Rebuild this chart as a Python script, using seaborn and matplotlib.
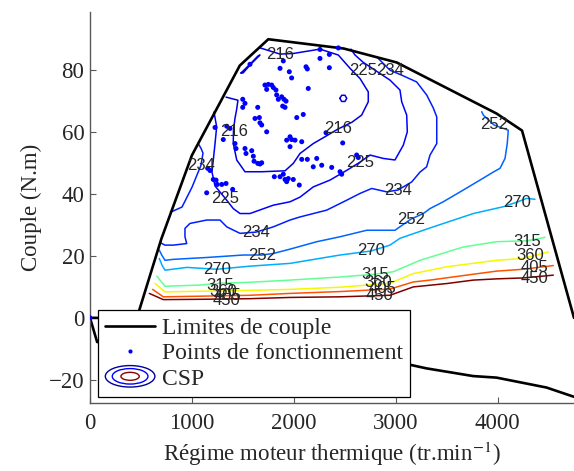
import matplotlib
matplotlib.use("Agg")
import matplotlib.pyplot as plt
from matplotlib.lines import Line2D
from matplotlib.patches import Ellipse
from matplotlib.legend_handler import HandlerBase
from matplotlib.colors import Normalize
import seaborn as sns

# ---- torque limits (rpm, N.m) ----
lim_up_rpm = [0, 460, 700, 1000, 1470, 1750, 2490, 3010, 3990, 4240, 4750]
lim_up_tq = [0, 0, 25.5, 52.5, 81.5, 90, 87, 82.5, 66, 60.5, 0]
lim_low_rpm = [0, 70, 600, 1500, 2400, 3120, 3300, 3760, 3990, 4480, 4750]
lim_low_tq = [0, -7.8, -8.5, -10.5, -13, -15, -16.3, -18.8, -19.3, -22.5, -25.5]

# ---- operating points ----
pts_rpm = [0,
           1865, 1897, 1956, 1979, 2257, 2437, 2349, 2257, 2120, 2133, 2349, 2142, 2093, 1570,
           1717, 1750, 1783, 1734, 1799, 1825, 1832, 1848, 1881, 1904, 1924, 1891, 1914,
           1499, 1521, 1499, 1646, 1619, 1662, 1668, 1685, 1734,
           1227, 1342, 1374, 1308, 1423, 1433, 1521, 1531, 1587, 1603, 1610, 1646, 1668, 1685,
           1809, 1865, 1897, 1914, 1946, 1995, 2054, 1930,
           1155, 1178, 1210, 1237, 1249, 1293, 1335, 1400, 1145,
           2029, 1930, 1963, 1979, 2012, 1963, 2078, 2480, 2316,
           2078, 2133, 2225, 2191, 2274, 2372, 2617, 2633, 2454, 2470]
pts_tq = [0,
          80.6, 83.0, 79.5, 77.5, 86.7, 87.2, 85.1, 83.8, 81.1, 80.4, 80.8, 74.1, 65.7, 81.9,
          75.2, 75.4, 75.2, 73.8, 74.4, 73.6, 72.0, 70.6, 71.4, 70.6, 70.0, 68.4, 68.0,
          70.6, 69.3, 68.0, 68.0, 64.4, 64.7, 63.0, 62.3, 60.1,
          61.5, 61.9, 61.2, 57.6, 56.3, 54.7, 54.7, 53.1, 54.0, 52.2, 50.6, 49.9, 49.7, 50.1,
          45.6, 45.6, 46.4, 44.7, 45.0, 44.7, 42.9, 44.0,
          48.3, 47.6, 44.7, 44.5, 43.1, 43.1, 43.4, 41.5, 40.4,
          64.7, 57.4, 58.5, 57.6, 57.4, 55.3, 56.9, 56.5, 59.8,
          51.2, 51.2, 51.5, 48.8, 49.3, 48.6, 52.6, 51.8, 47.2, 46.4]

# ---- CSP iso-lines (g/kWh) ----
csp216_rpm = [1335, 1452, 1438, 1423, 1408, 1406, 1440, 1521, 1685, 1914, 1995, 2061, 2191,
              2306, 2434, 2571, 2666, 2731, 2731, 2650, 2552, 2437, 2257, 1995, 1865, 1660]
csp216_tq = [71.3, 70.3, 67.1, 64.5, 60.6, 56.3, 51.0, 47.2, 47.2, 47.5, 49.9, 53.1, 56.3,
             58.5, 61.0, 63.2, 65.5, 69.8, 73.0, 77.3, 80.6, 84.9, 86.8, 85.4, 85.2, 87.3]
csp216b_rpm = [1482, 1560, 1649, 1668, 1580, 1502, 1482]
csp216b_tq = [79.1, 81.6, 84.6, 84.9, 82.0, 79.1, 79.1]
csp216c_rpm = [2452, 2470, 2502, 2520, 2502, 2470, 2452]
csp216c_tq = [70.9, 71.9, 71.9, 70.9, 69.9, 69.9, 70.9]
csp225_rpm = [1217, 1243, 1227, 1210, 1197, 1227, 1325, 1406, 1472, 1570, 1799, 1963, 2061,
              2191, 2355, 2522, 2650, 2748, 2878, 2993, 3075, 3114, 3108, 3059, 3042, 2944,
              2797, 2679, 2601, 2561]
csp225_tq = [66.5, 61.7, 56.3, 51.0, 47.1, 42.6, 38.7, 35.3, 33.7, 33.7, 36.4, 37.5, 39.0,
             42.3, 44.5, 47.7, 50.3, 52.6, 51.5, 51.0, 55.8, 60.1, 65.5, 69.8, 73.6, 76.8,
             80.0, 82.6, 84.9, 86.8]
csp234_rpm = [2826, 2944, 3059, 3206, 3304, 3369, 3403, 3403, 3403, 3337, 3304, 3239, 3157,
              3023, 2912, 2765, 2650, 2519, 2323, 2061, 1963, 1799, 1629, 1472, 1342, 1276,
              1145, 981, 932, 932, 949, 818, 736, 695]
csp234_tq = [83.9, 80.0, 78.4, 76.2, 72.0, 67.8, 64.9, 60.1, 56.3, 52.6, 48.8, 47.1, 43.9,
             41.3, 40.7, 41.8, 40.2, 38.0, 34.8, 32.6, 31.6, 29.4, 27.7, 27.3, 29.4, 31.6,
             31.6, 30.5, 28.9, 26.2, 24.0, 23.5, 23.5, 24.2]
csp234b_rpm = [1060, 1089, 1109, 1089, 1001, 952, 903, 815, 790]
csp234b_tq = [56.4, 54.8, 53.2, 49.3, 42.2, 39.0, 35.8, 34.5, 34.2]
csp252_rpm = [3844, 3860, 3965, 4105, 4095, 4073, 4024, 3958, 3827, 3664, 3467, 3337, 3271,
              3150, 2993, 2716, 2454, 2225, 1963, 1799, 1688, 1504, 1145, 818, 736, 704, 680]
csp252_tq = [66.6, 65.5, 62.3, 60.6, 56.3, 51.5, 48.3, 47.1, 44.5, 41.3, 37.5, 35.3, 33.7,
             31.9, 28.3, 28.3, 26.2, 24.6, 22.2, 20.8, 20.3, 20.3, 19.5, 18.9, 18.6, 20.3, 21.9]
csp270_rpm = [680, 707, 736, 949, 1246, 1570, 1963, 2454, 2758, 2944, 3042, 3369, 3762, 4056,
              4191, 4286, 4367]
csp270_tq = [19.2, 17.0, 15.4, 16.3, 15.7, 16.7, 17.6, 20.3, 21.6, 23.5, 25.7, 29.4, 33.7,
             35.9, 37.4, 38.6, 38.3]
csp315_rpm = [655, 736, 1080, 1276, 1570, 1963, 2454, 2797, 2977, 3239, 3664, 3991, 4289, 4465]
csp315_tq = [13.5, 10.2, 10.6, 11.2, 11.5, 12.2, 13.2, 14.1, 14.9, 18.6, 22.9, 24.6, 24.9, 26.0]
csp360_rpm = [638, 736, 1080, 1570, 1963, 2454, 2944, 3173, 3501, 3991, 4252, 4498]
csp360_tq = [11.1, 8.4, 8.6, 8.9, 9.2, 9.9, 11.2, 14.3, 16.5, 18.6, 19.2, 21.3]
csp405_rpm = [615, 719, 1080, 1570, 1963, 2454, 2944, 3173, 3337, 3762, 3991, 4252, 4547]
csp405_tq = [9.2, 6.8, 7.0, 7.3, 7.9, 8.5, 9.3, 11.6, 12.2, 14.1, 15.1, 15.7, 16.9]
csp450_rpm = [582, 719, 1080, 1570, 1963, 2454, 2944, 3173, 3504, 3762, 3991, 4252, 4547]
csp450_tq = [7.9, 5.9, 6.0, 6.2, 6.6, 6.8, 7.3, 10.0, 11.1, 12.2, 12.6, 12.9, 13.8]

iso_lines = [
    (216, csp216_rpm, csp216_tq), (216, csp216b_rpm, csp216b_tq), (216, csp216c_rpm, csp216c_tq),
    (225, csp225_rpm, csp225_tq), (234, csp234_rpm, csp234_tq), (234, csp234b_rpm, csp234b_tq),
    (252, csp252_rpm, csp252_tq), (270, csp270_rpm, csp270_tq), (315, csp315_rpm, csp315_tq),
    (360, csp360_rpm, csp360_tq), (405, csp405_rpm, csp405_tq), (450, csp450_rpm, csp450_tq),
]

# labels of the iso-lines: (value, rpm, torque)
iso_labels = [
    (216, 1865, 85.2), (216, 1413, 60.3), (216, 2434, 61.3),
    (225, 1325, 38.7), (225, 2679, 80.0), (225, 2650, 50.3),
    (234, 1089, 49.3), (234, 1629, 27.7), (234, 2944, 80.0), (234, 3023, 41.3),
    (252, 1688, 20.3), (252, 3150, 31.9), (252, 3965, 62.3),
    (270, 1246, 15.7), (270, 2758, 21.6), (270, 4191, 37.4),
    (315, 1276, 10.6), (315, 2797, 14.1), (315, 4289, 24.8),
    (360, 1305, 8.6), (360, 2826, 11.5), (360, 4318, 20.3),
    (405, 1345, 7.3), (405, 2866, 9.6), (405, 4367, 16.4),
    (450, 1335, 5.7), (450, 2846, 7.3), (450, 4367, 12.8),
]

sns.set_style("ticks")
plt.rcParams["font.family"] = ["Liberation Serif", "DejaVu Serif"]
plt.rcParams["mathtext.fontset"] = "stix"

fig = plt.figure(figsize=(5.74, 4.71), dpi=100)
ax = fig.add_axes([0.1568, 0.1437, 0.8432, 0.8315])

cmap = plt.get_cmap("jet")
norm = Normalize(195, 450)

for level, xs, ys in iso_lines:
    sns.lineplot(x=xs, y=ys, sort=False, estimator=None, color=cmap(norm(level)),
                 lw=1.1, ax=ax, legend=False)

for level, xr, yt in iso_labels:
    ax.text(xr, yt, str(level), ha="center", va="center", fontsize=12,
            family=["Liberation Sans", "DejaVu Sans"], zorder=4)

sns.lineplot(x=lim_up_rpm, y=lim_up_tq, sort=False, estimator=None, color="black",
             lw=1.9, ax=ax, legend=False)
sns.lineplot(x=lim_low_rpm, y=lim_low_tq, sort=False, estimator=None, color="black",
             lw=1.9, ax=ax, legend=False)
sns.scatterplot(x=pts_rpm, y=pts_tq, color="blue", s=13, edgecolor="none", ax=ax,
                legend=False, zorder=3)

ax.set_xlim(0, 4750)
ax.set_ylim(-27.6, 98.9)
ax.set_xticks([0, 1000, 2000, 3000, 4000])
ax.set_yticks([-20, 0, 20, 40, 60, 80])
sns.despine(ax=ax)
for side in ["left", "bottom"]:
    ax.spines[side].set_color("0.35")
    ax.spines[side].set_linewidth(1.0)
ax.tick_params(direction="in", length=4, color="0.35", labelsize=16.5)
ax.tick_params(axis="x", pad=7)
ax.tick_params(axis="y", pad=4)
ax.set_xlabel("Régime moteur thermique (tr.min$^{-1}$)", fontsize=16.5, labelpad=4)
ax.set_ylabel("Couple (N.m)", fontsize=16.5, labelpad=5)


class CSPHandler(HandlerBase):
    def create_artists(self, legend, orig_handle, xdescent, ydescent, width, height,
                       fontsize, trans):
        cx = width / 2 - xdescent
        cy = height / 2 - ydescent
        arts = []
        for scale, col in [(1.0, "#00009a"), (0.72, "#0000ff"), (0.37, "#8b0000")]:
            arts.append(Ellipse((cx, cy), width * scale, height * 1.3 * scale, fill=False,
                                ec=col, lw=1.0, transform=trans))
        return arts


csp_handle = object()
handles = [
    Line2D([], [], color="black", lw=1.9),
    Line2D([], [], color="blue", marker="o", ms=3, ls="none", mec="none"),
    csp_handle,
]
leg = ax.legend(handles, ["Limites de couple", "Points de fonctionnement", "CSP"],
                loc="lower left", bbox_to_anchor=(0.017, 0.017), borderaxespad=0,
                fontsize=17, handlelength=2.1, handletextpad=0.28, labelspacing=0.16,
                borderpad=0.3, fancybox=False, framealpha=1, edgecolor="black",
                handler_map={csp_handle: CSPHandler()})
leg.get_frame().set_linewidth(0.9)
leg.set_zorder(5)

fig.savefig("out.png", dpi=100)
